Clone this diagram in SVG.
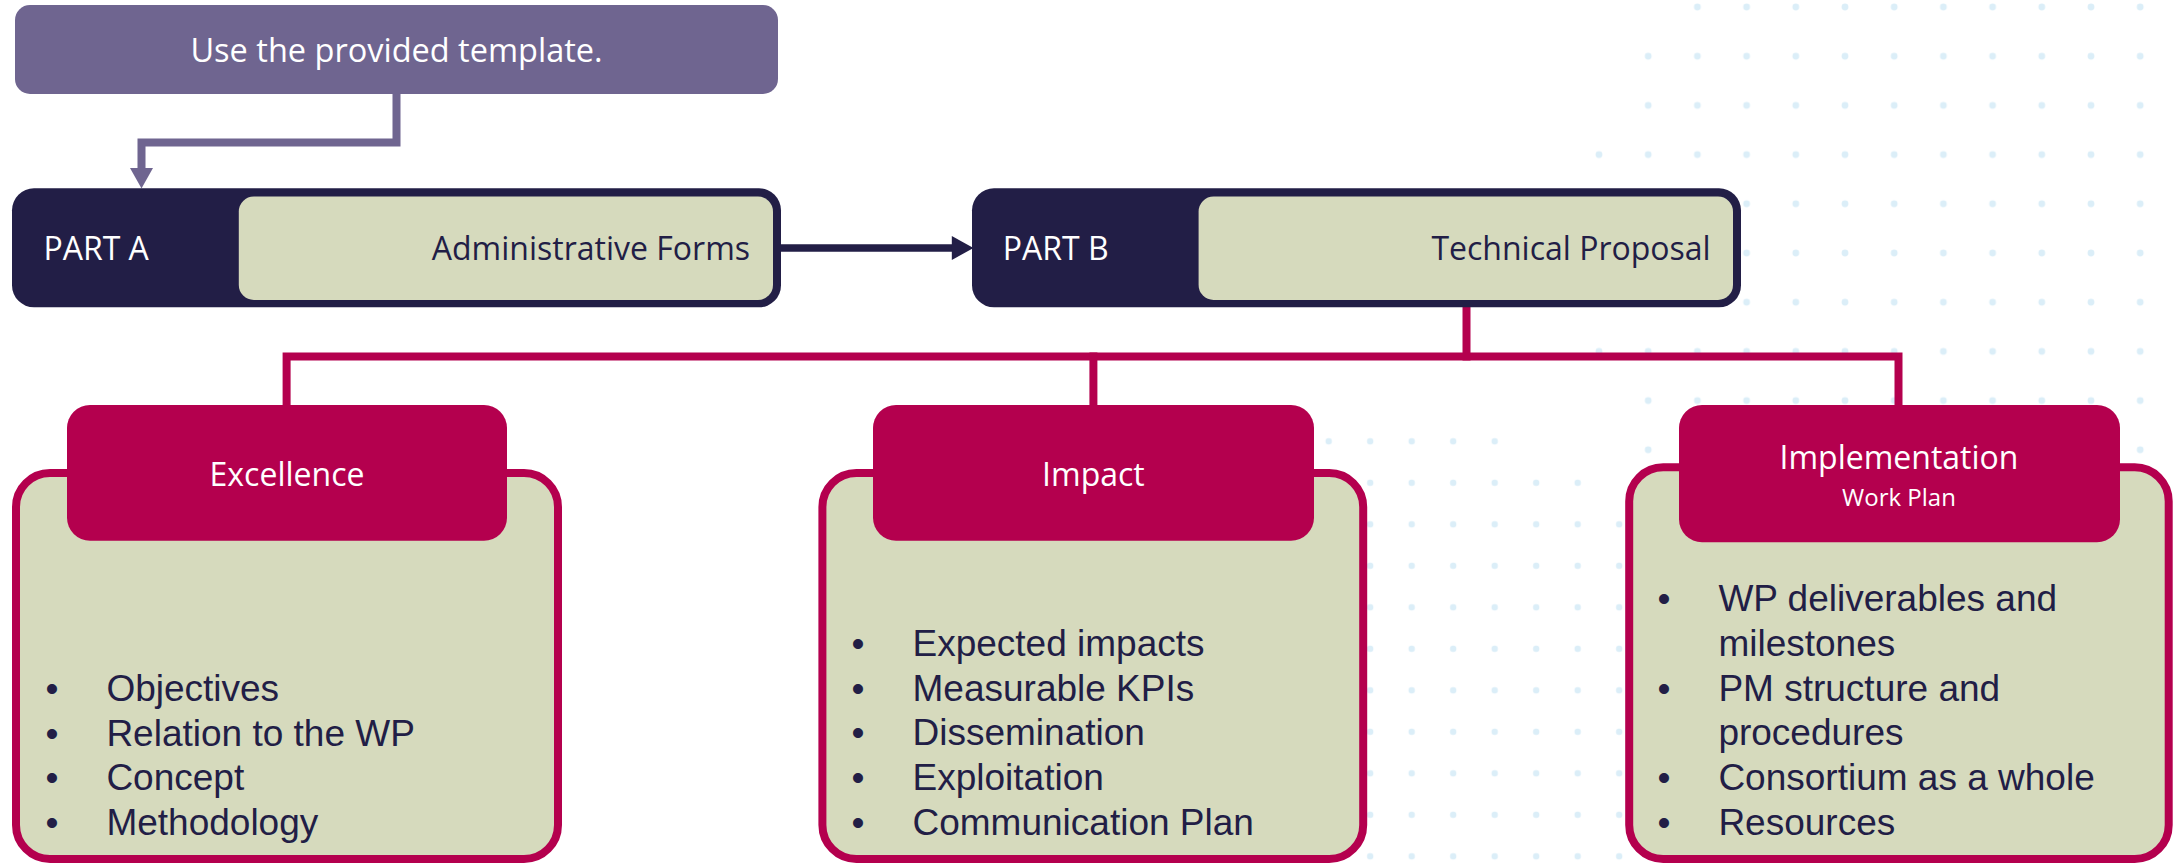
<svg xmlns="http://www.w3.org/2000/svg" width="2180" height="863" viewBox="0 0 2180 863">
  <style>
    .navy { fill: #221e46; }
    .olive { fill: #d6dabd; }
    .pink { fill: #b4004e; }
    .purple { fill: #6f6590; }
    .head { font-family: "Open Sans", "Noto Sans", sans-serif; font-size: 32px; }
    .white { fill: #ffffff; }
    .dark { fill: #221e46; }
    .body-box { fill: #d6dabd; stroke: #b4004e; stroke-width: 8; }
    .list { font-family: "Liberation Sans", Arial, sans-serif; font-size: 37px; fill: #221e46; }
    .pinkline { fill: none; stroke: #b4004e; stroke-width: 8; stroke-linejoin: miter; stroke-linecap: square; }
  </style>
  <defs>
    <pattern id="dotsA" x="1574.4" y="-17.6" width="49.2" height="49.2" patternUnits="userSpaceOnUse">
      <circle cx="24.6" cy="24.6" r="3.4" fill="#dbeef8"/>
    </pattern>
    <pattern id="dotsB" x="1307.95" y="420.55" width="41.5" height="41.5" patternUnits="userSpaceOnUse">
      <circle cx="20.75" cy="20.75" r="3.2" fill="#dbeef8"/>
    </pattern>
  </defs>

  <rect x="0" y="0" width="2180" height="863" fill="#ffffff"/>

  <g id="background-dots">
    <path fill="url(#dotsA)" d="M1673 -17.6 H2165 V31.6 H1673 Z M1624 31.6 H2165 V130 H1624 Z M1575 130 H2165 V376.4 H1575 Z M1624 376.4 H2165 V474 H1624 Z"/>
    <path fill="url(#dotsB)" d="M1308 420.5 H1515.5 V462 H1308 Z M1308 462 H1598 V503.5 H1308 Z M1308 503.5 H1640 V878 H1308 Z"/>
  </g>

  <g id="connectors">
    <path d="M396.5 94 V142.5 H141.5 V170" fill="none" stroke="#6f6590" stroke-width="8"/>
    <polygon points="130,168 153,168 141.5,188.5" fill="#6f6590"/>
    <line x1="781" y1="248" x2="954" y2="248" stroke="#221e46" stroke-width="7.5"/>
    <polygon points="951.8,236 973.5,248 951.8,260" fill="#221e46"/>
    <path class="pinkline" d="M1466.5 307 V356.5"/>
    <path class="pinkline" d="M286.6 405 V356.5 H1898.5 V405"/>
    <path class="pinkline" d="M1093.4 356.5 V405"/>
  </g>

  <g id="template-note">
    <rect x="15" y="5" width="763" height="89" rx="15" class="purple"/>
    <text x="396.5" y="62" text-anchor="middle" class="head white" style="font-size:32.5px">Use the provided template.</text>
  </g>

  <g id="part-a">
    <rect x="12" y="188.3" width="769" height="119" rx="22" class="navy"/>
    <rect x="238.8" y="196.5" width="534.2" height="103.5" rx="15" class="olive"/>
    <text x="43.4" y="260" class="head white">PART A</text>
    <text x="750" y="260" text-anchor="end" class="head dark">Administrative Forms</text>
  </g>

  <g id="part-b">
    <rect x="972" y="188.3" width="769" height="119" rx="22" class="navy"/>
    <rect x="1198.6" y="196.5" width="534.4" height="103.5" rx="15" class="olive"/>
    <text x="1002.8" y="260" class="head white">PART B</text>
    <text x="1710.7" y="260" text-anchor="end" class="head dark">Technical Proposal</text>
  </g>

  <g id="excellence">
    <rect x="16" y="473" width="542" height="386" rx="34" class="body-box"/>
    <rect x="67" y="405" width="440" height="135.7" rx="23" class="pink"/>
    <text x="287" y="486" text-anchor="middle" class="head white">Excellence</text>
    <g class="list">
      <text x="52" y="700.7" text-anchor="middle">•</text><text x="106.4" y="700.7">Objectives</text>
      <text x="52" y="745.7" text-anchor="middle">•</text><text x="106.4" y="745.7">Relation to the WP</text>
      <text x="52" y="790.3" text-anchor="middle">•</text><text x="106.4" y="790.3">Concept</text>
      <text x="52" y="835" text-anchor="middle">•</text><text x="106.4" y="835">Methodology</text>
    </g>
  </g>

  <g id="impact">
    <rect x="822.4" y="473" width="540.8" height="386" rx="34" class="body-box"/>
    <rect x="873" y="405" width="441" height="135.7" rx="23" class="pink"/>
    <text x="1093.4" y="486" text-anchor="middle" class="head white">Impact</text>
    <g class="list">
      <text x="858" y="656" text-anchor="middle">•</text><text x="912.5" y="656">Expected impacts</text>
      <text x="858" y="700.7" text-anchor="middle">•</text><text x="912.5" y="700.7">Measurable KPIs</text>
      <text x="858" y="745.3" text-anchor="middle">•</text><text x="912.5" y="745.3">Dissemination</text>
      <text x="858" y="790" text-anchor="middle">•</text><text x="912.5" y="790">Exploitation</text>
      <text x="858" y="835" text-anchor="middle">•</text><text x="912.5" y="835">Communication Plan</text>
    </g>
  </g>

  <g id="implementation">
    <rect x="1629.2" y="467.3" width="539.5" height="391.7" rx="34" class="body-box"/>
    <rect x="1679" y="405" width="441" height="137.3" rx="23" class="pink"/>
    <text x="1899" y="469.3" text-anchor="middle" class="head white">Implementation</text>
    <text x="1899" y="505.7" text-anchor="middle" class="head white" style="font-size:24px">Work Plan</text>
    <g class="list">
      <text x="1664" y="611" text-anchor="middle">•</text><text x="1718.4" y="611">WP deliverables and</text>
      <text x="1718.4" y="656">milestones</text>
      <text x="1664" y="700.7" text-anchor="middle">•</text><text x="1718.4" y="700.7">PM structure and</text>
      <text x="1718.4" y="745.3">procedures</text>
      <text x="1664" y="789.5" text-anchor="middle">•</text><text x="1718.4" y="789.5">Consortium as a whole</text>
      <text x="1664" y="835" text-anchor="middle">•</text><text x="1718.4" y="835">Resources</text>
    </g>
  </g>
</svg>
